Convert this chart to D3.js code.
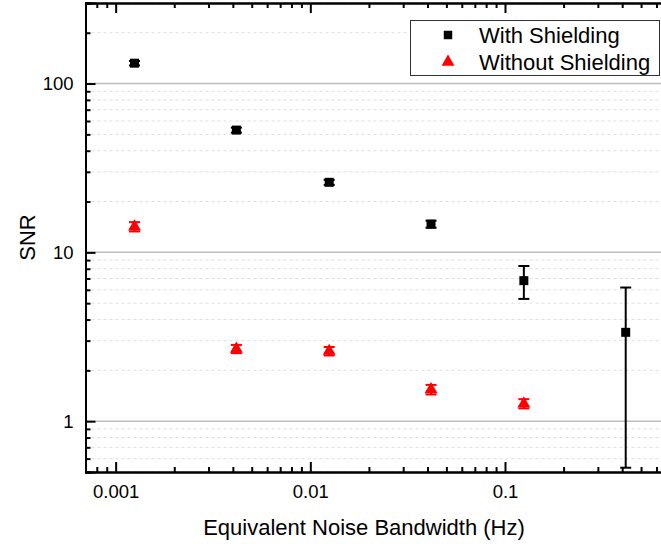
<!DOCTYPE html>
<html>
<head>
<meta charset="utf-8">
<script src="https://cdn.jsdelivr.net/npm/d3@7"></script>
<style>
  body { margin: 0; background: #fff; }
  svg { display: block; font-family: Arial, "Liberation Sans", sans-serif; }
</style>
</head>
<body>
<div id="chart"></div>
<script>
// Equivalent noise bandwidth (Hz)
const bandwidth = [0.00125, 0.00417, 0.0125, 0.0417, 0.125, 0.417];

// SNR with shielding (black squares) and its error
const snrShielded = [132, 53, 26, 14.7, 6.8, 3.36];
const errShielded = [4, 1.8, 0.9, 0.7, 1.5, 2.83];

// SNR without shielding (red triangles) and its error
const snrUnshielded = [14.2, 2.68, 2.6, 1.54, 1.27];
const errUnshielded = [0.9, 0.15, 0.15, 0.1, 0.08];

const xTickLabels = [0.001, 0.01, 0.1];
const yTickLabels = [1, 10, 100];

const width = 661, height = 544;
const margin = { left: 85.5, top: 3, bottom: 472 };

const svg = d3.select('#chart').append('svg')
    .attr('width', width)
    .attr('height', height);

const x = d3.scaleLog().domain([0.0007, 0.7]).range([margin.left, 669.5]);
const y = d3.scaleLog().domain([0.5, 300]).range([margin.bottom, margin.top]);

// minor tick values (2..9 of each decade)
const xMinor = x.ticks().filter(v => !xTickLabels.some(t => Math.abs(t - v) / t < 1e-6));
const yMinor = y.ticks().filter(v => !yTickLabels.some(t => Math.abs(t - v) / t < 1e-6));

const plotRight = 661;

// horizontal grid
svg.append('g').selectAll('line.minor')
    .data(yMinor)
    .enter().append('line')
    .attr('x1', margin.left).attr('x2', plotRight)
    .attr('y1', d => y(d)).attr('y2', d => y(d))
    .style('stroke', '#dedede')
    .style('stroke-width', 1)
    .style('stroke-dasharray', '3,3');

svg.append('g').selectAll('line.major')
    .data(yTickLabels)
    .enter().append('line')
    .attr('x1', margin.left).attr('x2', plotRight)
    .attr('y1', d => y(d)).attr('y2', d => y(d))
    .style('stroke', '#bdbdbd')
    .style('stroke-width', 1.5);

// axes (ticks point inward)
const fmt = d => String(d);

svg.append('g')
    .attr('transform', `translate(0,${margin.bottom})`)
    .call(d3.axisBottom(x).tickValues(xTickLabels).tickFormat(fmt).tickSize(-10).tickPadding(13));
svg.append('g')
    .attr('transform', `translate(0,${margin.bottom})`)
    .call(d3.axisBottom(x).tickValues(xMinor).tickFormat('').tickSize(-5));
svg.append('g')
    .attr('transform', `translate(0,${margin.top})`)
    .call(d3.axisTop(x).tickValues(xTickLabels).tickFormat('').tickSize(-10));
svg.append('g')
    .attr('transform', `translate(0,${margin.top})`)
    .call(d3.axisTop(x).tickValues(xMinor).tickFormat('').tickSize(-5));

svg.append('g')
    .attr('transform', `translate(${margin.left},0)`)
    .call(d3.axisLeft(y).tickValues(yTickLabels).tickFormat(fmt).tickSize(-10).tickPadding(12));
svg.append('g')
    .attr('transform', `translate(${margin.left},0)`)
    .call(d3.axisLeft(y).tickValues(yMinor).tickFormat('').tickSize(-5));

svg.selectAll('.domain').style('stroke', '#000').style('stroke-width', 2);
svg.selectAll('.tick line').style('stroke', '#000').style('stroke-width', 2);
svg.selectAll('.tick text')
    .style('font-size', '18.5px')
    .style('fill', '#000')
    .style('font-family', 'Arial, "Liberation Sans", sans-serif');

// axis titles
svg.append('text')
    .attr('x', 364)
    .attr('y', 535)
    .style('text-anchor', 'middle')
    .style('font-size', '22px')
    .text('Equivalent Noise Bandwidth (Hz)');

svg.append('text')
    .attr('transform', `translate(35,${(margin.top + margin.bottom) / 2}) rotate(-90)`)
    .style('text-anchor', 'middle')
    .style('font-size', '22px')
    .text('SNR');

// error bars
function errorBars(xs, ys, errs, color) {
    const g = svg.append('g');
    const data = ys.map((v, i) => ({ x: xs[i], y: v, e: errs[i] }));
    g.selectAll('line.bar').data(data).enter().append('line')
        .attr('x1', d => x(d.x)).attr('x2', d => x(d.x))
        .attr('y1', d => y(d.y + d.e)).attr('y2', d => y(d.y - d.e))
        .style('stroke', color).style('stroke-width', 2);
    ['+', '-'].forEach(sign => {
        g.selectAll('line.cap' + (sign === '+' ? 'h' : 'l')).data(data).enter().append('line')
            .attr('x1', d => x(d.x) - 5.5).attr('x2', d => x(d.x) + 5.5)
            .attr('y1', d => y(sign === '+' ? d.y + d.e : d.y - d.e))
            .attr('y2', d => y(sign === '+' ? d.y + d.e : d.y - d.e))
            .style('stroke', color).style('stroke-width', 2);
    });
}

errorBars(bandwidth, snrShielded, errShielded, '#000');
errorBars(bandwidth, snrUnshielded, errUnshielded, '#f00');

// markers
const square = d3.symbol().type(d3.symbolSquare).size(81);
const triangle = d3.symbol().type(d3.symbolTriangle).size(72);

svg.append('g').selectAll('path')
    .data(snrShielded)
    .enter().append('path')
    .attr('d', square)
    .attr('transform', (d, i) => `translate(${x(bandwidth[i])},${y(d)})`)
    .style('fill', '#000');

svg.append('g').selectAll('path')
    .data(snrUnshielded)
    .enter().append('path')
    .attr('d', triangle)
    .attr('transform', (d, i) => `translate(${x(bandwidth[i])},${y(d)})`)
    .style('fill', '#f00');

// legend
const legend = svg.append('g').attr('class', 'legend');
legend.append('rect')
    .attr('x', 410.5).attr('y', 20.5)
    .attr('width', 249).attr('height', 55)
    .style('fill', '#fff')
    .style('stroke', '#333')
    .style('stroke-width', 1);

const legendItems = [
    { label: 'With Shielding', symbol: d3.symbol().type(d3.symbolSquare).size(72), color: '#000' },
    { label: 'Without Shielding', symbol: triangle, color: '#f00' }
];

legendItems.forEach((item, i) => {
    const cy = 35 + i * 27;
    legend.append('path')
        .attr('d', item.symbol)
        .attr('transform', `translate(448,${cy})`)
        .style('fill', item.color);
    legend.append('text')
        .attr('x', 479)
        .attr('y', cy + 8)
        .style('font-size', '22px')
        .text(item.label);
});
</script>
</body>
</html>
